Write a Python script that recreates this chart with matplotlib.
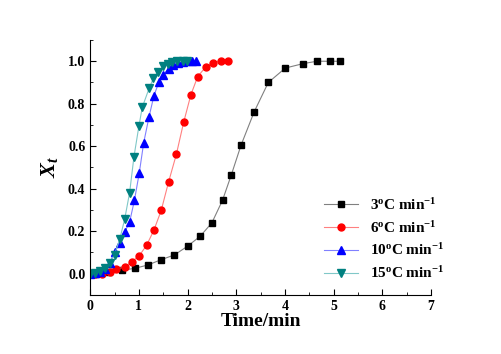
import numpy as np
import matplotlib
matplotlib.use('Agg')
import matplotlib.pyplot as plt
from matplotlib.ticker import MultipleLocator

plt.rcParams['font.family'] = 'Liberation Serif'
plt.rcParams['font.weight'] = 'bold'
plt.rcParams['mathtext.fontset'] = 'custom'
plt.rcParams['mathtext.rm'] = 'Liberation Serif:bold'
plt.rcParams['mathtext.it'] = 'Liberation Serif:italic:bold'
plt.rcParams['mathtext.bf'] = 'Liberation Serif:bold'

# 3 C/min
t3 = [0.12, 0.39, 0.655, 0.917, 1.19, 1.45, 1.73, 2.0, 2.26, 2.50, 2.72, 2.90,
      3.10, 3.37, 3.66, 4.01, 4.38, 4.66, 4.92, 5.13]
x3 = [0.0, 0.008, 0.016, 0.025, 0.041, 0.065, 0.088, 0.129, 0.176, 0.239, 0.346, 0.465,
      0.605, 0.762, 0.90, 0.968, 0.989, 1.0, 1.0, 1.0]
# 6 C/min
t6 = [0.1, 0.24, 0.40, 0.54, 0.71, 0.85, 1.01, 1.16, 1.31, 1.46, 1.61, 1.77, 1.92,
      2.07, 2.21, 2.37, 2.52, 2.68, 2.83]
x6 = [0.0, 0.0, 0.008, 0.022, 0.031, 0.055, 0.085, 0.134, 0.205, 0.298, 0.431, 0.561,
      0.712, 0.843, 0.928, 0.972, 0.994, 1.0, 1.0]
# 10 C/min
t10 = [0.0, 0.1, 0.2, 0.3, 0.4, 0.50, 0.61, 0.71, 0.81, 0.91, 1.01, 1.10, 1.21, 1.31,
       1.41, 1.50, 1.61, 1.71, 1.81, 1.90, 2.01, 2.10, 2.18]
x10 = [0.0, 0.003, 0.008, 0.02, 0.05, 0.102, 0.142, 0.195, 0.243, 0.346, 0.476, 0.617,
       0.739, 0.838, 0.90, 0.937, 0.964, 0.983, 0.992, 0.998, 1.0, 1.0, 1.0]
# 15 C/min
t15 = [0.0, 0.1, 0.2, 0.3, 0.4, 0.50, 0.61, 0.71, 0.81, 0.90, 1.0, 1.07, 1.21, 1.30,
       1.39, 1.50, 1.60, 1.69, 1.79, 1.90, 1.99]
x15 = [0.0, 0.005, 0.012, 0.025, 0.05, 0.090, 0.164, 0.258, 0.381, 0.551, 0.693, 0.783,
       0.872, 0.92, 0.951, 0.976, 0.989, 0.995, 1.0, 1.0, 1.0]

fig = plt.figure(figsize=(5.01, 3.54), dpi=100)
ax = fig.add_axes([0.18, 0.167, 0.68, 0.72])

ax.plot(t3, x3, '-', color='#808080', lw=0.8, marker='s', ms=4.5, mfc='black', mec='black',
        label=r'3$\mathregular{^o}$C min$\mathregular{^{-1}}$')
ax.plot(t6, x6, '-', color='#ff8080', lw=0.8, marker='o', ms=5, mfc='red', mec='red',
        label=r'6$\mathregular{^o}$C min$\mathregular{^{-1}}$')
ax.plot(t10, x10, '-', color='#8080ff', lw=0.8, marker='^', ms=5.5, mfc='blue', mec='blue',
        label=r'10$\mathregular{^o}$C min$\mathregular{^{-1}}$')
ax.plot(t15, x15, '-', color='#80c8c8', lw=0.8, marker='v', ms=5.5, mfc='#008080', mec='#008080',
        label=r'15$\mathregular{^o}$C min$\mathregular{^{-1}}$')

ax.set_xlim(0, 7)
ax.set_ylim(-0.1, 1.1)
ax.xaxis.set_major_locator(MultipleLocator(1))
ax.xaxis.set_minor_locator(MultipleLocator(0.5))
ax.yaxis.set_minor_locator(MultipleLocator(0.1))
ax.set_yticks(np.arange(0, 1.01, 0.2))
ax.tick_params(which='both', direction='in', labelsize=10)
ax.tick_params(which='major', length=4)
ax.tick_params(which='minor', length=2)
ax.spines['top'].set_visible(False)
ax.spines['right'].set_visible(False)

ax.set_xlabel('Time/min', fontsize=14, fontweight='bold', labelpad=0)
ax.set_ylabel(r'$\mathit{X}_\mathit{t}$', fontsize=16, labelpad=6, rotation=90)

ax.legend(loc='lower right', bbox_to_anchor=(1.08, 0.0), frameon=False, fontsize=11,
          handlelength=2.2, labelspacing=0.45)

fig.savefig('out.png', dpi=100)
